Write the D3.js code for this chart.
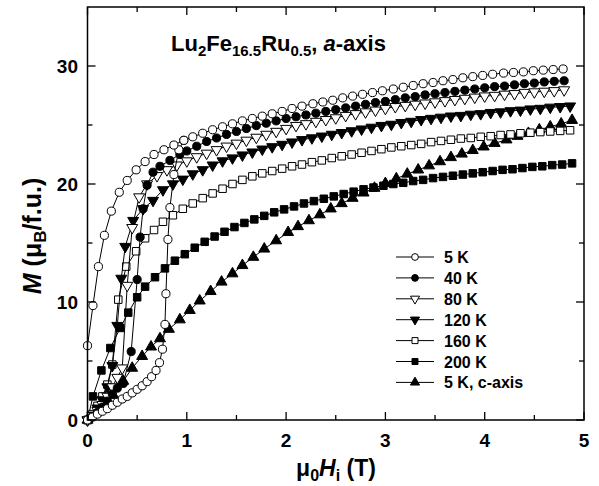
<!DOCTYPE html>
<html><head><meta charset="utf-8">
<script src="https://cdn.jsdelivr.net/npm/d3@7"></script>
<style>body{margin:0;background:#fff}svg{display:block}text{font-family:Arial,"Liberation Sans",sans-serif;font-weight:bold}</style>
</head><body><svg id="c" width="599" height="486"></svg>
<script>
// x ticks / y ticks
const xTicks = [0,1,2,3,4,5];
const xMinor = [0.5,1.5,2.5,3.5,4.5];
const yTicks = [0,10,20,30];
const yMinor = [5,15,25];
const legendLabels = ["5 K","40 K","80 K","120 K","160 K","200 K","5 K, c-axis"];

// 5 K a-axis: virgin branch and return (upper) branch, [H (T), M (muB/f.u.)]
const s5K_virgin = [[0,0],[0.05,0.25],[0.1,0.5],[0.15,0.74],[0.2,0.96],[0.25,1.25],[0.3,1.5],[0.35,1.78],[0.4,2.0],[0.45,2.3],[0.5,2.6],[0.55,2.9],[0.6,3.25],[0.645,3.67],[0.69,4.2],[0.725,4.86],[0.755,6.0],[0.78,8.1],[0.79,10.7],[0.81,15.3],[0.83,18.0],[0.87,20.8],[0.92,22.9],[0.97,23.7]];
const s5K_upper = [[0,6.3],[0.055,9.7],[0.11,13.0],[0.17,15.65],[0.24,17.7],[0.32,19.3],[0.40,20.3],[0.49,21.2],[0.58,21.9],[0.67,22.5],[0.77,22.9],[0.87,23.3],[0.97,23.7],[1.06,24.0],[1.16,24.3],[1.26,24.6],[1.36,24.85],[1.46,25.1],[1.56,25.35],[1.66,25.55],[1.76,25.75],[1.86,25.95],[1.96,26.15],[2.06,26.4],[2.16,26.6],[2.27,26.8],[2.37,26.95],[2.47,27.1],[2.57,27.3],[2.67,27.45],[2.77,27.6],[2.87,27.75],[2.97,27.9],[3.08,28.05],[3.18,28.2],[3.28,28.35],[3.38,28.5],[3.48,28.6],[3.58,28.75],[3.68,28.85],[3.78,29.0],[3.88,29.1],[3.98,29.2],[4.08,29.3],[4.19,29.4],[4.29,29.45],[4.39,29.5],[4.49,29.6],[4.59,29.65],[4.69,29.7],[4.79,29.75]];
const s40K = [[0,0],[0.05,0.3],[0.1,0.65],[0.15,1.1],[0.2,1.6],[0.25,2.2],[0.3,2.7],[0.36,3.1],[0.44,5.8],[0.5,11.9],[0.53,15.5],[0.56,17.9],[0.6,19.9],[0.66,21.0],[0.73,21.5],[0.83,22.0],[0.93,22.5],[1.0,22.8],[1.1,23.2],[1.2,23.6],[1.3,23.9],[1.4,24.2],[1.5,24.45],[1.6,24.7],[1.7,24.95],[1.8,25.15],[1.9,25.35],[2.0,25.55],[2.1,25.7],[2.2,25.85],[2.3,26.0],[2.4,26.15],[2.5,26.3],[2.6,26.45],[2.7,26.6],[2.8,26.75],[2.9,26.9],[3.0,27.0],[3.1,27.15],[3.2,27.3],[3.3,27.4],[3.4,27.55],[3.5,27.65],[3.6,27.75],[3.7,27.85],[3.8,27.95],[3.9,28.05],[4.0,28.15],[4.1,28.25],[4.2,28.3],[4.3,28.4],[4.4,28.5],[4.5,28.55],[4.6,28.65],[4.7,28.7],[4.8,28.75]];
const s80K = [[0,0],[0.05,0.35],[0.1,0.8],[0.15,1.3],[0.2,2.0],[0.25,2.8],[0.3,3.6],[0.35,4.4],[0.4,11.4],[0.45,16.3],[0.52,18.9],[0.6,20.0],[0.7,20.7],[0.8,21.2],[0.9,21.6],[1.0,21.95],[1.1,22.3],[1.2,22.6],[1.3,22.9],[1.4,23.2],[1.5,23.45],[1.6,23.7],[1.7,23.95],[1.8,24.2],[1.9,24.45],[2.0,24.7],[2.1,24.95],[2.2,25.1],[2.3,25.3],[2.4,25.45],[2.5,25.6],[2.6,25.8],[2.7,25.95],[2.8,26.1],[2.9,26.25],[3.0,26.4],[3.1,26.55],[3.2,26.65],[3.3,26.75],[3.4,26.85],[3.5,26.95],[3.6,27.05],[3.7,27.15],[3.8,27.25],[3.9,27.35],[4.0,27.45],[4.1,27.5],[4.2,27.6],[4.3,27.65],[4.4,27.75],[4.5,27.8],[4.6,27.85],[4.7,27.9],[4.8,27.97]];
const s120K = [[0,0],[0.05,0.4],[0.1,1.0],[0.15,1.7],[0.2,2.8],[0.25,4.6],[0.3,8.0],[0.34,12.0],[0.38,14.7],[0.46,16.9],[0.56,17.9],[0.66,18.6],[0.76,19.5],[0.86,20.0],[0.96,20.4],[1.06,20.85],[1.16,21.2],[1.26,21.6],[1.36,21.95],[1.46,22.2],[1.56,22.45],[1.66,22.7],[1.76,22.95],[1.86,23.15],[1.96,23.35],[2.06,23.55],[2.16,23.75],[2.26,23.9],[2.36,24.05],[2.46,24.2],[2.56,24.35],[2.66,24.5],[2.76,24.65],[2.86,24.8],[2.96,24.95],[3.06,25.05],[3.16,25.2],[3.26,25.3],[3.36,25.45],[3.46,25.55],[3.56,25.65],[3.66,25.75],[3.76,25.8],[3.86,25.9],[3.96,25.95],[4.06,26.05],[4.16,26.1],[4.26,26.2],[4.36,26.25],[4.46,26.35],[4.56,26.4],[4.66,26.5],[4.76,26.55],[4.86,26.6]];
const s160K = [[0,0],[0.05,0.5],[0.1,1.2],[0.15,2.0],[0.2,3.0],[0.25,4.7],[0.31,10.2],[0.39,13.0],[0.49,14.3],[0.58,15.4],[0.67,16.1],[0.76,16.8],[0.86,17.35],[0.96,17.9],[1.06,18.35],[1.16,18.8],[1.26,19.2],[1.36,19.6],[1.46,20.0],[1.56,20.35],[1.66,20.65],[1.76,20.9],[1.86,21.1],[1.96,21.3],[2.06,21.5],[2.16,21.65],[2.26,21.85],[2.36,22.0],[2.46,22.2],[2.56,22.35],[2.66,22.5],[2.76,22.65],[2.86,22.8],[2.96,22.95],[3.06,23.1],[3.16,23.2],[3.26,23.3],[3.36,23.4],[3.46,23.55],[3.56,23.65],[3.66,23.75],[3.76,23.85],[3.86,23.9],[3.96,24.0],[4.06,24.05],[4.16,24.15],[4.26,24.2],[4.36,24.3],[4.46,24.35],[4.56,24.4],[4.66,24.45],[4.76,24.5],[4.86,24.55]];
const s200K = [[0,0],[0.055,2.0],[0.14,4.2],[0.23,6.1],[0.33,7.8],[0.41,9.1],[0.5,10.4],[0.58,11.3],[0.68,12.1],[0.78,12.85],[0.88,13.5],[0.98,14.05],[1.08,14.6],[1.18,15.1],[1.28,15.55],[1.38,15.95],[1.48,16.35],[1.58,16.7],[1.68,17.0],[1.78,17.3],[1.88,17.6],[1.98,17.85],[2.08,18.1],[2.18,18.35],[2.28,18.55],[2.38,18.75],[2.48,18.95],[2.58,19.15],[2.68,19.35],[2.78,19.55],[2.88,19.7],[2.98,19.85],[3.08,20.0],[3.18,20.1],[3.28,20.25],[3.38,20.35],[3.48,20.5],[3.58,20.6],[3.68,20.7],[3.78,20.8],[3.88,20.9],[3.98,21.0],[4.08,21.1],[4.18,21.2],[4.28,21.25],[4.38,21.35],[4.48,21.45],[4.58,21.5],[4.68,21.6],[4.78,21.65],[4.88,21.75]];
const s5K_c = [[0,0],[0.08,0.55],[0.17,1.2],[0.26,2.1],[0.36,3.3],[0.45,4.4],[0.55,5.4],[0.64,6.2],[0.73,6.9],[0.82,7.7],[0.93,8.5],[1.03,9.3],[1.13,10.1],[1.24,10.9],[1.35,11.7],[1.46,12.4],[1.56,13.1],[1.67,13.8],[1.78,14.5],[1.9,15.2],[2.02,15.9],[2.12,16.4],[2.23,16.9],[2.34,17.4],[2.45,17.9],[2.56,18.35],[2.67,18.8],[2.78,19.25],[2.89,19.65],[3.0,20.05],[3.11,20.45],[3.22,20.85],[3.33,21.2],[3.44,21.55],[3.55,21.9],[3.66,22.25],[3.77,22.55],[3.88,22.85],[3.99,23.15],[4.1,23.45],[4.22,23.75],[4.33,24.05],[4.44,24.3],[4.55,24.6],[4.66,24.85],[4.77,25.1],[4.88,25.4]];

const svg = d3.select("#c");
const L = 87.5, R = 584, T = 7, B = 420;
const x = d3.scaleLinear().domain([0,5]).range([L,R]);
const y = d3.scaleLinear().domain([0,35]).range([B,T]);

const sym = {
  circle: d3.symbolCircle, square: d3.symbolSquare, up: d3.symbolTriangle, down: d3.symbolTriangle
};
const series = [
  {name:"5 K, c-axis", branches:[s5K_c], shape:"up", fill:"#000", size:52},
  {name:"200 K", branches:[s200K], shape:"square", fill:"#000", size:56},
  {name:"160 K", branches:[s160K], shape:"square", fill:"#fff", size:56},
  {name:"120 K", branches:[s120K], shape:"down", fill:"#000", size:52},
  {name:"80 K", branches:[s80K], shape:"down", fill:"#fff", size:52},
  {name:"40 K", branches:[s40K], shape:"circle", fill:"#000", size:52},
  {name:"5 K", branches:[s5K_virgin, s5K_upper], shape:"circle", fill:"#fff", size:52}
];

const line = d3.line().x(d=>x(d[0])).y(d=>y(d[1]));
const plot = svg.append("g");
function marker(g, s, size){
  return g.append("path")
    .attr("d", d3.symbol().type(sym[s.shape]).size(size)())
    .attr("transform", s.shape==="down" ? "rotate(180)" : null)
    .attr("fill", s.fill).attr("stroke","#000").attr("stroke-width",1);
}
series.forEach(s=>{
  const g = plot.append("g");
  s.branches.forEach(b=>{
    g.append("path").attr("d", line(b)).attr("fill","none").attr("stroke","#000").attr("stroke-width",1);
  });
  s.branches.forEach(b=>{
    b.forEach(d=>{
      const mg = g.append("g").attr("transform",`translate(${x(d[0])},${y(d[1])})`);
      marker(mg, s, s.size);
    });
  });
});

// frame and ticks (inward, all four sides)
const axG = svg.append("g").attr("stroke","#000");
axG.append("rect").attr("x",L).attr("y",T).attr("width",R-L).attr("height",B-T)
  .attr("fill","none").attr("stroke-width",1.5);
function tk(x1,y1,x2,y2){ axG.append("line").attr("x1",x1).attr("y1",y1).attr("x2",x2).attr("y2",y2).attr("stroke-width",1.3); }
xTicks.forEach(v=>{ tk(x(v),B,x(v),B-8); tk(x(v),T,x(v),T+8); });
xMinor.forEach(v=>{ tk(x(v),B,x(v),B-5); tk(x(v),T,x(v),T+5); });
yTicks.forEach(v=>{ tk(L,y(v),L+8,y(v)); tk(R,y(v),R-8,y(v)); });
yMinor.forEach(v=>{ tk(L,y(v),L+5,y(v)); tk(R,y(v),R-5,y(v)); });

// tick labels
svg.append("g").selectAll("text").data(xTicks).join("text")
  .attr("x",d=>x(d)).attr("y",447).attr("text-anchor","middle").attr("font-size",19).text(d=>d);
svg.append("g").selectAll("text").data(yTicks).join("text")
  .attr("x",78).attr("y",d=>y(d)+7).attr("text-anchor","end").attr("font-size",19).text(d=>d);

// axis titles
const xl = svg.append("text").attr("x",336).attr("y",476).attr("text-anchor","middle").attr("font-size",23);
xl.append("tspan").text("μ");
xl.append("tspan").attr("font-size",16).attr("dy",5).text("0");
xl.append("tspan").attr("dy",-5).attr("font-style","italic").text("H");
xl.append("tspan").attr("font-size",16).attr("dy",5).text("i");
xl.append("tspan").attr("dy",-5).text(" (T)");

const yl = svg.append("text").attr("transform","translate(41,236) rotate(-90)").attr("text-anchor","middle").attr("font-size",25);
yl.append("tspan").attr("font-style","italic").text("M");
yl.append("tspan").text(" (μ");
yl.append("tspan").attr("font-size",17).attr("dy",5).text("B");
yl.append("tspan").attr("dy",-5).text("/f.u.)");

// title
const tt = svg.append("text").attr("x",171).attr("y",51).attr("font-size",22);
tt.append("tspan").text("Lu");
tt.append("tspan").attr("font-size",15).attr("dy",5).text("2");
tt.append("tspan").attr("dy",-5).text("Fe");
tt.append("tspan").attr("font-size",15).attr("dy",5).text("16.5");
tt.append("tspan").attr("dy",-5).text("Ru");
tt.append("tspan").attr("font-size",15).attr("dy",5).text("0.5");
tt.append("tspan").attr("dy",-5).text(", ");
tt.append("tspan").attr("font-style","italic").text("a");
tt.append("tspan").text("-axis");

// legend
const lg = svg.append("g");
legendLabels.forEach((lab,i)=>{
  const s = series.find(q=>q.name===lab);
  const yy = 257 + i*20.9;
  lg.append("line").attr("x1",396).attr("x2",434).attr("y1",yy).attr("y2",yy).attr("stroke","#000").attr("stroke-width",1);
  const mg = lg.append("g").attr("transform",`translate(415,${yy})`);
  marker(mg, s, 36);
  lg.append("text").attr("x",444).attr("y",yy+6).attr("font-size",16).text(lab);
});
</script></body></html>
